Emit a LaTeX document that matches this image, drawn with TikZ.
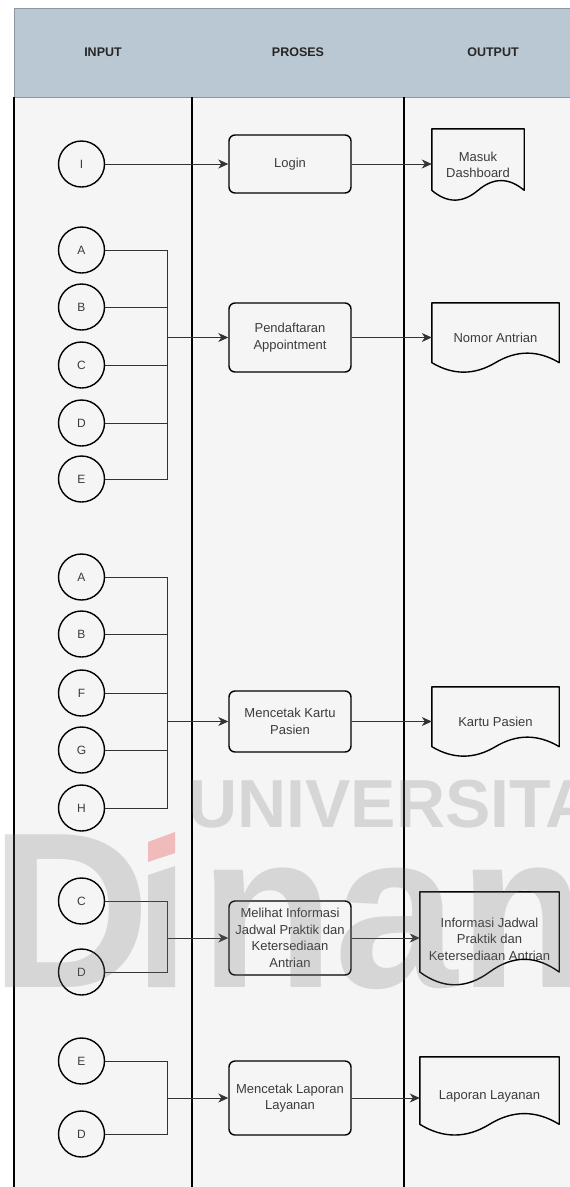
\documentclass[tikz,border=0pt]{standalone}
\usepackage{fontspec}
\setmainfont{Liberation Sans}
\usetikzlibrary{arrows.meta,calc}

\definecolor{headfill}{HTML}{BAC8D3}
\definecolor{lanefill}{HTML}{F5F5F5}
\definecolor{headline}{HTML}{8A97A3}
\definecolor{txt}{HTML}{3C3C3C}
\definecolor{wmgray}{HTML}{737373}
\definecolor{wmred}{HTML}{E53935}

\tikzset{
  lanetitle/.style={font=\bfseries\fontsize{12.5}{15}\selectfont, text=black!85},
  inputcircle/.style={circle, draw=black, line width=1.4pt, minimum size=46pt,
    inner sep=0pt, fill=lanefill, font=\fontsize{12}{14}\selectfont, text=txt},
  procbox/.style={rectangle, rounded corners=6pt, draw=black, line width=1.4pt,
    fill=lanefill, minimum width=122pt, align=center, inner sep=1pt,
    font=\fontsize{13}{16.5}\selectfont, text=txt},
  docnode/.style={rectangle, draw=none, inner sep=1pt, align=center,
    font=\fontsize{13}{16.5}\selectfont, text=txt},
  docline/.style={draw=black, line width=1.4pt, line join=round},
  lanesep/.style={draw=black, line width=1.4pt},
  link/.style={draw=black!80, line width=1pt},
  flow/.style={link, -{Stealth[length=10pt,width=9pt,inset=3pt]}},
  wm/.style={text opacity=0.23, text=wmgray, inner sep=0pt}
}

% outline of a document symbol drawn round a named node (wavy bottom edge)
\newcommand\docoutline[1]{%
  \draw[docline] let \p1=(#1.north west), \p2=(#1.south east),
      \n1={\x2-\x1}, \n2={0.3*(\y1-\y2)} in
    (\x1,\y1) -- (\x2,\y1) -- ({\x2},{\y2+0.5*\n2})
    .. controls ({\x2-\n1/6},{\y2+1.1*\n2}) and ({\x1+2*\n1/3},{\y2+1.1*\n2}) ..
    ({\x1+0.5*\n1},{\y2+0.5*\n2})
    .. controls ({\x1+\n1/3},{\y2-0.1*\n2}) and ({\x1+\n1/6},{\y2-0.1*\n2}) ..
    ({\x1},{\y2+0.5*\n2}) -- cycle;}

\begin{document}
\begin{tikzpicture}[x=1pt,y=-1pt]
\useasboundingbox (0,0) rectangle (570,1187);
\begin{scope}
\clip (0,0) rectangle (570,1187);

% swimlane frame
\fill[lanefill] (14,97) rectangle (600,1200);
\draw[headline, fill=headfill, line width=1pt] (14,8) rectangle (600,97);
\draw[lanesep] (14,97) -- (14,1200);
\draw[lanesep] (192,97) -- (192,1200);
\draw[lanesep] (404,97) -- (404,1200);

\node[lanetitle] (hin)   at (103,52) {INPUT};
\node[lanetitle] (hproc) at (298,52) {PROSES};
\node[lanetitle] (hout)  at (493,52) {OUTPUT};

% ---- Login
\node[inputcircle] (i1) at (81.5,164) {I};
\node[procbox, minimum height=58pt] (p1) at (290,164) {Login};
\node[docnode, minimum width=92pt, minimum height=72pt] (d1) at (478,165) {Masuk\\Dashboard};
\docoutline{d1}
\draw[flow] (i1.east) -- (p1.west);
\draw[flow] (p1.east) -- (p1.east -| d1.west);

% ---- Pendaftaran Appointment
\node[inputcircle] (a1) at (81.5,250) {A};
\node[inputcircle] (b1) at (81.5,307) {B};
\node[inputcircle] (c1) at (81.5,365) {C};
\node[inputcircle] (e1d) at (81.5,423) {D};
\node[inputcircle] (e1) at (81.5,479) {E};
\node[procbox, minimum height=69pt] (p2) at (290,337.5) {Pendaftaran\\Appointment};
\node[docnode, minimum width=127pt, minimum height=70pt] (d2) at (495.5,338) {Nomor Antrian};
\docoutline{d2}
\coordinate (j2) at (167,337.5);
\foreach \n in {a1,b1,c1,e1d,e1} \draw[link] (\n.east) -| (j2);
\draw[flow] (j2) -- (p2.west);
\draw[flow] (p2.east) -- (p2.east -| d2.west);

% ---- Mencetak Kartu Pasien
\node[inputcircle] (a3) at (81.5,577) {A};
\node[inputcircle] (b3) at (81.5,634) {B};
\node[inputcircle] (f3) at (81.5,693) {F};
\node[inputcircle] (g3) at (81.5,750) {G};
\node[inputcircle] (h3) at (81.5,808) {H};
\node[procbox, minimum height=61pt] (p3) at (290,721.5) {Mencetak Kartu\\Pasien};
\node[docnode, minimum width=127pt, minimum height=70pt] (d3) at (495.5,722) {Kartu Pasien};
\docoutline{d3}
\coordinate (j3) at (167,721.5);
\foreach \n in {a3,b3,f3,g3,h3} \draw[link] (\n.east) -| (j3);
\draw[flow] (j3) -- (p3.west);
\draw[flow] (p3.east) -- (p3.east -| d3.west);

% ---- Melihat Informasi Jadwal
\node[inputcircle] (c4) at (81.5,901) {C};
\node[inputcircle] (d4in) at (81.5,972) {D};
\node[procbox, minimum height=74pt] (p4) at (290,938)
  {Melihat Informasi\\Jadwal Praktik dan\\Ketersediaan\\Antrian};
\node[docnode, minimum width=139pt, minimum height=94pt] (d4) at (489.5,939)
  {Informasi Jadwal\\Praktik dan\\Ketersediaan Antrian};
\docoutline{d4}
\coordinate (j4) at (167,938);
\foreach \n in {c4,d4in} \draw[link] (\n.east) -| (j4);
\draw[flow] (j4) -- (p4.west);
\draw[flow] (p4.east) -- (p4.east -| d4.west);

% ---- Mencetak Laporan Layanan
\node[inputcircle] (e5) at (81.5,1061) {E};
\node[inputcircle] (d5in) at (81.5,1134) {D};
\node[procbox, minimum height=74pt] (p5) at (290,1098) {Mencetak Laporan\\Layanan};
\node[docnode, minimum width=139pt, minimum height=79pt] (d5) at (489.5,1096.5) {Laporan Layanan};
\docoutline{d5}
\coordinate (j5) at (167,1098);
\foreach \n in {e5,d5in} \draw[link] (\n.east) -| (j5);
\draw[flow] (j5) -- (p5.west);
\draw[flow] (p5.east) -- (p5.east -| d5.west);

% ---- watermark
\node[wm, anchor=base west, font=\bfseries\fontsize{68}{68}\selectfont] (wmuni) at (188,827) {UNIVERSITAS};
\node[wm, anchor=base west, font=\bfseries\fontsize{222}{222}\selectfont] (wmd) at (-10,987) {D};
\fill[wmgray, opacity=0.23] (148,875) -- (175,866) -- (175,987) -- (148,987) -- cycle;
\fill[wmred, opacity=0.3] (148,842) -- (175,832) -- (175,853) -- (148,862) -- cycle;
\node[wm, anchor=base west, font=\bfseries\fontsize{222}{222}\selectfont] (wmrest) at (199,987) {namika};
\end{scope}
\end{tikzpicture}
\end{document}
